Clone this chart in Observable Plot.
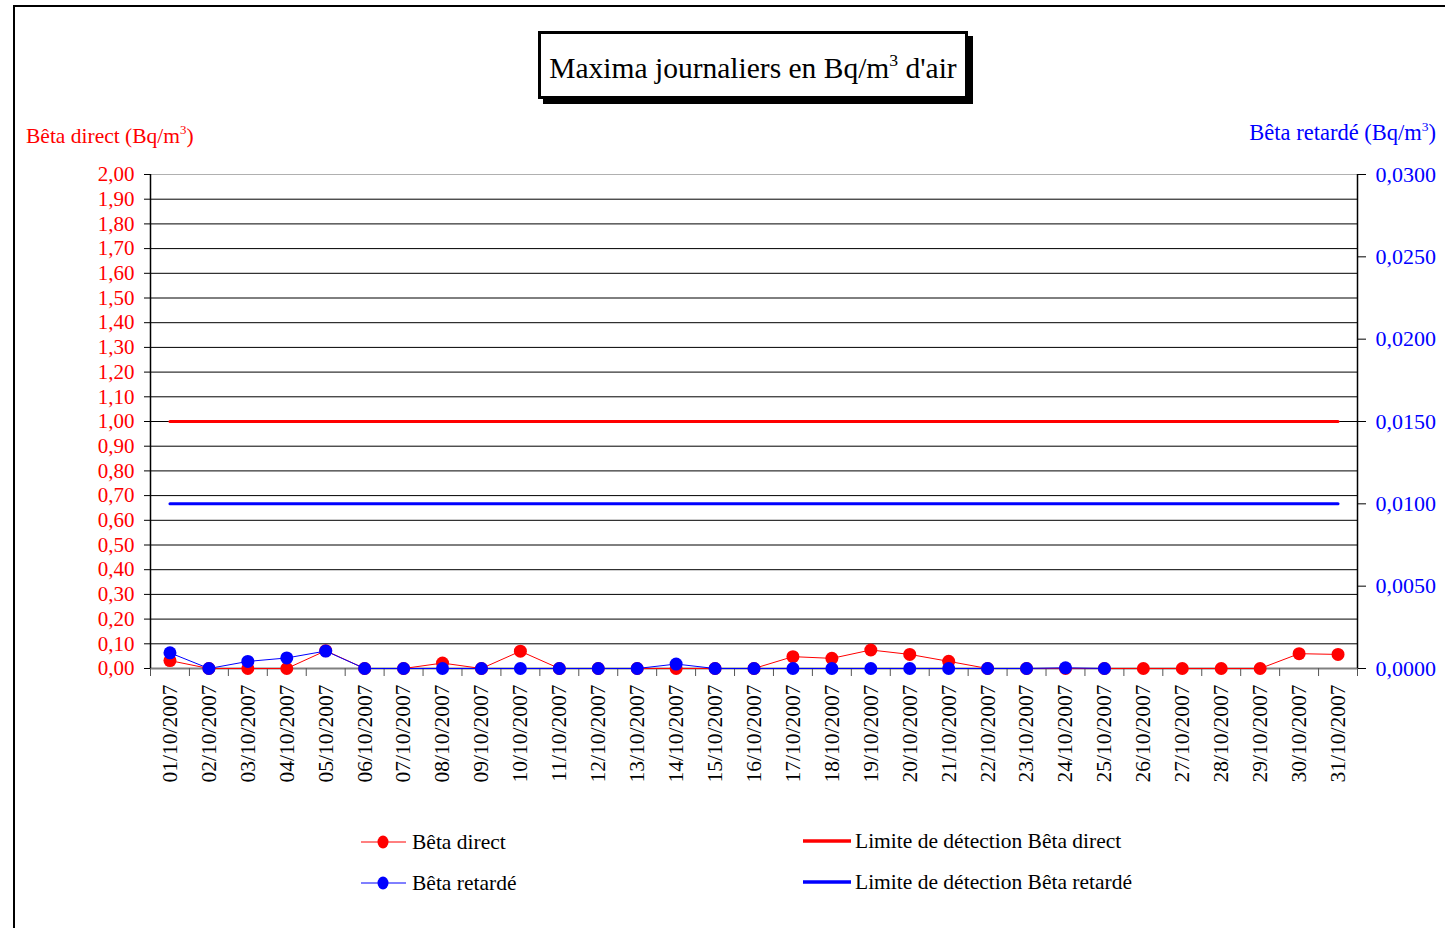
<!DOCTYPE html>
<html>
<head>
<meta charset="utf-8">
<script src="https://cdn.jsdelivr.net/npm/d3@7"></script>
<script src="https://cdn.jsdelivr.net/npm/@observablehq/plot@0.6"></script>
<style>
  body { margin: 0; background: #fff; font-family: "Liberation Serif", "Times New Roman", serif; }
  #wrap { position: relative; width: 1445px; height: 928px; overflow: hidden; background: #fff; }
  #frame { position: absolute; left: 13px; top: 5px; width: 2000px; height: 2000px; border-top: 2px solid #000; border-left: 2px solid #000; }
  #chart { position: absolute; left: 0; top: 0; }
  .abs { position: absolute; white-space: nowrap; }
  #title { left: 538px; top: 31px; width: 424px; height: 62px; border: 3px solid #000; box-shadow: 5px 5px 0 #000; background: #fff;
           font-size: 29.5px; display: flex; align-items: center; justify-content: center; }
  #title span { position: relative; top: 3px; }
  sup { font-size: 0.6em; vertical-align: 0.7em; line-height: 0; }
  .ytitle { font-size: 21.5px; }
  .leg { font-size: 21.5px; color: #000; display: flex; align-items: center; }
</style>
</head>
<body>
<div id="wrap">
  <div id="frame"></div>
  <div id="chart"></div>
  <div id="title" class="abs"><span>Maxima journaliers en Bq/m<sup>3</sup> d'air</span></div>
  <div class="abs ytitle" style="left:26px; top:124px; color:#ff0000;">Bêta direct (Bq/m<sup>3</sup>)</div>
  <div class="abs ytitle" style="right:9px; top:120px; color:#0000ff; font-size:22.5px;">Bêta retardé (Bq/m<sup>3</sup>)</div>
  <div id="legend"></div>
</div>
<script>
const dates = ["01/10/2007","02/10/2007","03/10/2007","04/10/2007","05/10/2007","06/10/2007","07/10/2007","08/10/2007","09/10/2007","10/10/2007",
  "11/10/2007","12/10/2007","13/10/2007","14/10/2007","15/10/2007","16/10/2007","17/10/2007","18/10/2007","19/10/2007","20/10/2007",
  "21/10/2007","22/10/2007","23/10/2007","24/10/2007","25/10/2007","26/10/2007","27/10/2007","28/10/2007","29/10/2007","30/10/2007","31/10/2007"];
const betaDirect = [0.032, 0, 0, 0, 0.072, 0, 0, 0.022, 0, 0.07, 0, 0, 0, 0, 0, 0, 0.048, 0.041, 0.075, 0.057, 0.029, 0, 0, 0, 0, 0, 0, 0, 0, 0.06, 0.057];
const betaRetarde = [0.00095, 0, 0.00043, 0.00064, 0.00106, 0, 0, 0, 0, 0, 0, 0, 0, 0.00027, 0, 0, 0, 0, 0, 0, 0, 0, 0, 0.00004, 0, null, null, null, null, null, null];
const limiteDirect = 1.0;
const limiteRetarde = 0.01;
const leftTicks = d3.range(0, 21).map(i => i / 10);
const rightTicks = [0, 0.005, 0.01, 0.015, 0.02, 0.025, 0.03];
const leftMax = 2.0, rightMax = 0.03;
const k = leftMax / rightMax;

const idx = dates.map((d, i) => i + 1);
const rowsD = dates.map((d, i) => ({x: i + 1, y: betaDirect[i]}));
const rowsR = dates.map((d, i) => ({x: i + 1, y: betaRetarde[i] == null ? NaN : betaRetarde[i] * k}));
const limD = dates.map((d, i) => ({x: i + 1, y: limiteDirect}));
const limR = dates.map((d, i) => ({x: i + 1, y: limiteRetarde * k}));
const fmtL = v => d3.format(".2f")(v).replace(".", ",");
const fmtR = v => d3.format(".4f")(v / k).replace(".", ",");

const W = 1445, H = 928;
const chart = Plot.plot({
  width: W, height: H,
  marginLeft: 150, marginRight: W - 1357, marginTop: 174, marginBottom: H - 668,
  style: {background: "transparent", fontFamily: "'Liberation Serif', serif", fontSize: "20px", overflow: "visible"},
  x: {type: "linear", domain: [0.5, dates.length + 0.5]},
  y: {type: "linear", domain: [0, leftMax]},
  marks: [
    Plot.ruleY(leftTicks.filter(v => v > 0 && v < leftMax), {stroke: "#000", strokeWidth: 1}),
    Plot.ruleY([leftMax], {stroke: "#b0b0b0", strokeWidth: 1}),
    Plot.ruleY([0], {stroke: "#808080", strokeWidth: 2}),
    Plot.ruleX([0.5, dates.length + 0.5], {y1: 0, y2: leftMax, stroke: "#000", strokeWidth: 1.5}),
    Plot.axisY({anchor: "left", ticks: leftTicks, tickFormat: fmtL, tickSize: 6, tickPadding: 10, stroke: "#000", fill: "#ff0000", fontSize: 21, label: null}),
    Plot.axisY({anchor: "right", ticks: rightTicks.map(v => v * k), tickFormat: fmtR, tickSize: 8, tickPadding: 10, stroke: "#000", fill: "#0000ff", fontSize: 22, label: null}),
    Plot.axisX({ticks: d3.range(0.5, dates.length + 1, 1), tickFormat: () => "", tickSize: 8, stroke: "#555", label: null}),
    Plot.axisX({ticks: idx, tickFormat: i => dates[i - 1], tickSize: 0, tickPadding: 16, tickRotate: -90, fill: "#000", fontSize: 21.5, label: null}),
    Plot.line(limD, {x: "x", y: "y", stroke: "#ff0000", strokeWidth: 3}),
    Plot.line(limR, {x: "x", y: "y", stroke: "#0000ff", strokeWidth: 3}),
    Plot.line(rowsD, {x: "x", y: "y", stroke: "#ff0000", strokeWidth: 1}),
    Plot.dot(rowsD, {x: "x", y: "y", r: 6.5, fill: "#ff0000", stroke: "none"}),
    Plot.line(rowsR, {x: "x", y: "y", stroke: "#0000ff", strokeWidth: 1}),
    Plot.dot(rowsR, {x: "x", y: "y", r: 6.5, fill: "#0000ff", stroke: "none"})
  ]
});
document.getElementById("chart").appendChild(chart);

// legend
const legendItems = [
  {label: "Bêta direct", color: "#ff0000", dot: true, left: 361, top: 842},
  {label: "Bêta retardé", color: "#0000ff", dot: true, left: 361, top: 883},
  {label: "Limite de détection Bêta direct", color: "#ff0000", dot: false, left: 803, top: 841},
  {label: "Limite de détection Bêta retardé", color: "#0000ff", dot: false, left: 803, top: 882}
];
const leg = document.getElementById("legend");
for (const it of legendItems) {
  const d = document.createElement("div");
  d.className = "abs leg";
  d.style.left = it.left + "px";
  d.style.top = (it.top - 14) + "px";
  d.style.height = "28px";
  const sw = it.dot
    ? `<svg width="45" height="16"><line x1="0" y1="8" x2="45" y2="8" stroke="${it.color}" stroke-width="1"/><ellipse cx="22" cy="8" rx="5.5" ry="6.5" fill="${it.color}"/></svg>`
    : `<svg width="48" height="16"><line x1="0" y1="8" x2="48" y2="8" stroke="${it.color}" stroke-width="3.5"/></svg>`;
  d.innerHTML = sw + `<span>${it.label}</span>`;
  d.querySelector("svg").style.marginRight = it.dot ? "6px" : "4px";
  leg.appendChild(d);
}
</script>
</body>
</html>
